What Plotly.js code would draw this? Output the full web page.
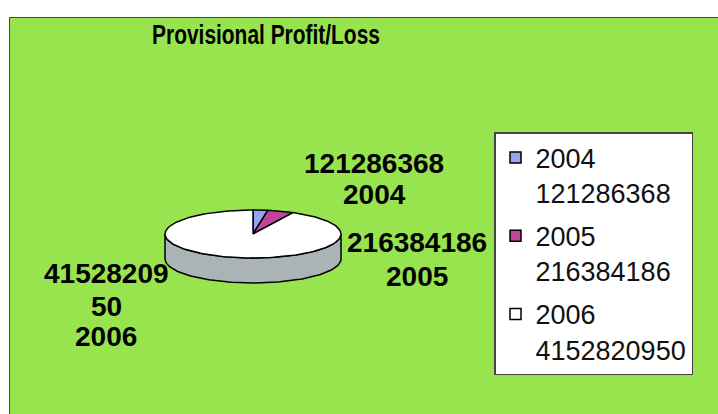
<!DOCTYPE html>
<html><head><meta charset="utf-8">
<script src="https://cdn.plot.ly/plotly-3.0.1.min.js"></script>
<style>html,body{margin:0;padding:0;background:#fff}#chart{width:718px;height:414px}</style>
</head><body><div id="chart"></div>
<script>
const chartTitle = "Provisional Profit/Loss";
const years = ["2004", "2005", "2006"];
const values = [121286368, 216384186, 4152820950];
const topColors = ["#9AA3F2", "#C0449E", "#FFFFFF"];
const sideColors = ["#6470C0", "#8E2C74", "#AAB3B5"];

// pie geometry (pixel-based axis units)
const cx = 253, cy = 234, rx = 88, ry = 24, depth = 25;
function pt(theta, dy) {
  const r = theta * Math.PI / 180;
  return [cx + rx * Math.sin(r), cy - ry * Math.cos(r) + dy];
}
const total = values.reduce((a, b) => a + b, 0);
let acc = 0;
const slices = values.map(v => { const a0 = acc / total * 360; acc += v; return [a0, acc / total * 360]; });

const traces = [];
// visible side walls (front half: 90..270 deg clockwise from top)
slices.forEach(([a0, a1], i) => {
  const s = Math.max(a0, 90), e = Math.min(a1, 270);
  if (e <= s) return;
  const xs = [], ys = [];
  const n = Math.max(2, Math.ceil((e - s) / 2));
  for (let k = 0; k <= n; k++) { const p = pt(s + (e - s) * k / n, 0); xs.push(p[0]); ys.push(p[1]); }
  for (let k = n; k >= 0; k--) { const p = pt(s + (e - s) * k / n, depth); xs.push(p[0]); ys.push(p[1]); }
  xs.push(xs[0]); ys.push(ys[0]);
  traces.push({type: 'scatter', x: xs, y: ys, mode: 'lines', fill: 'toself', fillcolor: sideColors[i],
    line: {color: '#000', width: 1.5}, showlegend: false, hoverinfo: 'skip'});
});
// top faces
slices.forEach(([a0, a1], i) => {
  const xs = [cx], ys = [cy];
  const n = Math.max(2, Math.ceil((a1 - a0) / 2));
  for (let k = 0; k <= n; k++) { const p = pt(a0 + (a1 - a0) * k / n, 0); xs.push(p[0]); ys.push(p[1]); }
  xs.push(cx); ys.push(cy);
  traces.push({type: 'scatter', x: xs, y: ys, mode: 'lines', fill: 'toself', fillcolor: topColors[i],
    line: {color: '#000', width: 1.5}, showlegend: false, hoverinfo: 'skip'});
});
// legend entries
years.forEach((yr, i) => {
  traces.push({type: 'scatter', x: [null], y: [null], mode: 'markers', name: yr + '<br>' + values[i],
    legendgroup: 'g' + i, marker: {symbol: 'square', size: 11, color: topColors[i], line: {color: '#000', width: 1.5}}});
});

// data labels
const labelPos = [
  {x: 374, y: [163, 194]},
  {x: 417, y: [242, 276]},
  {x: 106, y: [273, 306, 336]}
];
const annotations = [];
years.forEach((yr, i) => {
  const s = String(values[i]);
  const lines = s.length > 9 ? [s.slice(0, 8), s.slice(8)] : [s];
  lines.push(yr);
  lines.forEach((t, k) => {
    annotations.push({xref: 'x', yref: 'y', x: labelPos[i].x, y: labelPos[i].y[k], text: '<b>' + t + '</b>',
      showarrow: false, xanchor: 'center', yanchor: 'middle',
      font: {family: 'Liberation Sans, Arial, sans-serif', size: 28, color: '#000'}});
  });
});

const layout = {
  width: 718, height: 414,
  margin: {l: 9, t: 17, r: 0, b: 0},
  paper_bgcolor: '#ffffff',
  plot_bgcolor: '#98E44E',
  title: {text: '<b>' + chartTitle + '</b>', x: 266 / 718, xanchor: 'center', y: 1 - 35 / 414, yanchor: 'middle',
    font: {family: 'Liberation Sans, Arial, sans-serif', size: 27, color: '#000'}},
  xaxis: {range: [9, 718], visible: false, fixedrange: true},
  yaxis: {range: [414, 17], visible: false, fixedrange: true},
  showlegend: true,
  legend: {x: (494 - 9) / 709, xanchor: 'left', y: 1 - (132 - 17) / 397, yanchor: 'top',
    bgcolor: '#ffffff', bordercolor: '#444', borderwidth: 1.5, valign: 'top', tracegroupgap: 5,
    font: {family: 'Liberation Sans, Arial, sans-serif', size: 27, color: '#111'}},
  annotations: annotations,
  shapes: [
    {type: 'line', xref: 'x', yref: 'y', x0: 9, x1: 718, y0: 17, y1: 17, line: {color: '#444', width: 2}},
    {type: 'line', xref: 'x', yref: 'y', x0: 9, x1: 9, y0: 17, y1: 414, line: {color: '#444', width: 2}}
  ]
};
Plotly.newPlot('chart', traces, layout, {displayModeBar: false, staticPlot: true}).then(() => {
  // condense the title horizontally (narrow bold face in the reference)
  const t = document.querySelector('.gtitle');
  if (t) {
    const bb = t.getBBox();
    const c = bb.x + bb.width / 2;
    const s = 228 / bb.width;
    t.setAttribute('transform', `translate(${c},0) scale(${s},1) translate(${-c},0)`);
  }
});
</script>
</body></html>
